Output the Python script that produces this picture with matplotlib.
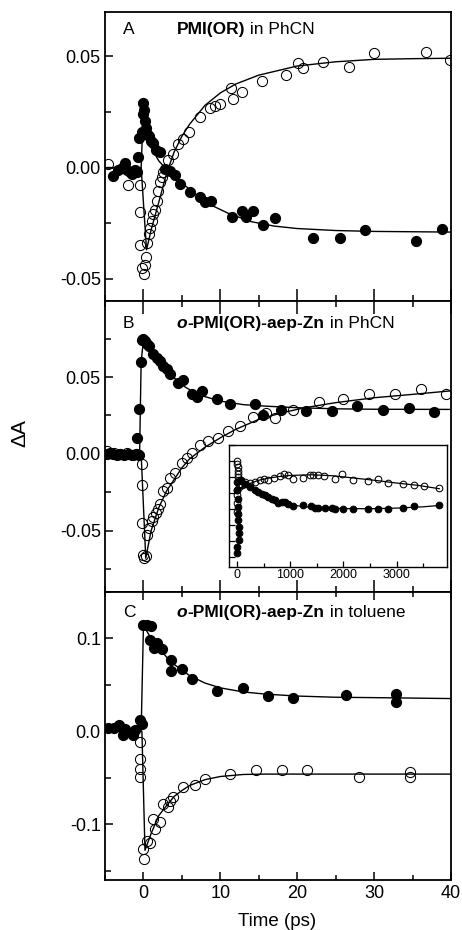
import numpy as np
import matplotlib
matplotlib.use("Agg")
import matplotlib.pyplot as plt
from matplotlib.ticker import MultipleLocator, FormatStrFormatter, NullFormatter

plt.rcParams['font.family'] = ['Liberation Sans', 'DejaVu Sans']
plt.rcParams['axes.unicode_minus'] = False

# ---- panel A: PMI(OR) in PhCN ----
tA_open = [-4.55, -2.04, -0.43, -0.43, -0.43, -0.2, 0.09, 0.2, 0.35, 0.43, 0.74, 0.87, 1.08,
           1.3, 1.5, 1.73, 1.95, 2.17, 2.38, 2.6, 3.25, 3.9, 4.55, 5.1, 5.94, 7.37, 8.67, 9.3,
           9.97, 11.4, 11.7, 12.8, 15.4, 18.6, 20.1, 20.7, 23.3, 26.7, 30.0, 36.8, 39.9]
yA_open = [0.0018, -0.0077, -0.008, -0.020, -0.035, -0.045, -0.048, -0.044, -0.040, -0.034,
           -0.030, -0.027, -0.024, -0.021, -0.019, -0.015, -0.0105, -0.0065, -0.0042, -0.002,
           0.0033, 0.0063, 0.0108, 0.013, 0.016, 0.0228, 0.0266, 0.0276, 0.0285, 0.036, 0.031,
           0.034, 0.039, 0.0416, 0.047, 0.0446, 0.0476, 0.0454, 0.0517, 0.0521, 0.0484]
tA_fill = [-3.9, -3.3, -2.8, -2.4, -2.17, -1.8, -1.5, -1.08, -0.87, -0.65, -0.52, -0.22, -0.09,
           0.0, 0.09, 0.22, 0.35, 0.52, 0.74, 0.95, 1.3, 1.6, 2.17, 2.8, 3.47, 4.1, 4.77, 6.07,
           7.37, 8.0, 8.76, 11.5, 12.8, 13.4, 14.2, 15.5, 17.1, 22.1, 25.5, 28.8, 35.5, 38.8]
yA_fill = [-0.0038, -0.001, 0.0, 0.0023, -0.0012, -0.002, -0.0027, -0.001, -0.002, 0.0048,
           0.0131, 0.016, 0.0243, 0.029, 0.026, 0.021, 0.018, 0.015, 0.014, 0.012, 0.011, 0.008,
           0.007, -0.0005, -0.0015, -0.0035, -0.0072, -0.011, -0.013, -0.0155, -0.015, -0.022,
           -0.0195, -0.022, -0.0195, -0.026, -0.0225, -0.0315, -0.0315, -0.028, -0.033, -0.0275]
tA_fit_open = [-5, -0.3, 0.4, 1, 2, 3, 4, 5, 6, 8, 10, 12, 15, 20, 25, 30, 35, 40]
yA_fit_open = [0.0, 0.0, -0.037, -0.028, -0.0155, -0.0027, 0.0071, 0.0141, 0.0195, 0.028,
               0.0336, 0.0376, 0.0416, 0.0457, 0.0476, 0.0487, 0.049, 0.0492]
tA_fit_fill = [-5, -0.3, 0.0, 0.5, 1, 1.5, 2, 3, 4, 5, 6, 7, 9, 11, 14, 17, 20, 25, 30, 40]
yA_fit_fill = [0.0, 0.0, 0.027, 0.016, 0.010, 0.006, 0.003, -0.0008, -0.0035, -0.0068,
               -0.0098, -0.0125, -0.0172, -0.0205, -0.0243, -0.0263, -0.0274, -0.0283,
               -0.0287, -0.029]

# ---- panel B: o-PMI(OR)-aep-Zn in PhCN ----
tB_fill = [-4.77, -4.3, -4.0, -3.5, -3.0, -2.5, -2.0, -1.5, -1.0, -0.6, -0.87, -0.52, -0.35,
           -0.22, 0.0, 0.22, 0.43, 0.74, 1.3, 1.73, 2.17, 2.6, 3.0, 3.47, 4.55, 5.2, 6.3, 7.0,
           7.6, 9.6, 11.2, 14.5, 15.5, 17.9, 21.2, 24.5, 27.8, 31.2, 34.6, 37.8]
yB_fill = [0.0, 0.0005, 0.0, -0.001, 0.0, -0.001, 0.0, -0.001, 0.0, -0.0005, 0.0104, 0.029,
           0.060, 0.074, 0.0746, 0.0735, 0.0713, 0.070, 0.065, 0.0626, 0.0604, 0.057, 0.055,
           0.0517, 0.0463, 0.0478, 0.0387, 0.037, 0.041, 0.0354, 0.0322, 0.0322, 0.0252,
           0.0283, 0.0278, 0.0278, 0.031, 0.0283, 0.0296, 0.0274]
tB_open = [-4.7, -3.8, -3.0, -2.2, -1.4, -0.8, -0.22, -0.22, -0.22, -0.09, 0.13, 0.35, 0.43,
           0.78, 1.08, 1.3, 1.65, 1.95, 2.17, 2.6, 3.0, 3.47, 4.1, 5.0, 5.6, 6.3, 7.4, 8.45,
           9.75, 11.05, 12.57, 14.3, 16.0, 17.1, 19.5, 22.8, 26.0, 29.3, 32.7, 36.1, 39.4]
yB_open = [0.002, 0.0005, 0.0, 0.0005, -0.0005, 0.0, -0.0065, -0.020, -0.045, -0.066, -0.068,
           -0.0667, -0.0526, -0.048, -0.044, -0.041, -0.0385, -0.036, -0.033, -0.0243, -0.022,
           -0.0157, -0.0124, -0.0059, -0.0026, 0.0007, 0.0057, 0.0083, 0.0104, 0.0148, 0.018,
           0.024, 0.0267, 0.0235, 0.0283, 0.0337, 0.036, 0.0387, 0.0387, 0.042, 0.0391]
tB_fit_fill = [-5, -0.5, -0.3, 0.0, 1, 2, 3, 4, 5, 7, 10, 13, 16, 20, 25, 30, 40]
yB_fit_fill = [0.0, 0.0, 0.060, 0.074, 0.068, 0.061, 0.055, 0.0495, 0.0448, 0.0387, 0.0343,
               0.032, 0.031, 0.030, 0.0293, 0.029, 0.0289]
tB_fit_open = [-5, -0.3, 0.3, 1, 2, 3, 4, 5, 6, 8, 10, 12, 15, 18, 21, 25, 30, 35, 40]
yB_fit_open = [0.0, 0.0, -0.068, -0.050, -0.035, -0.0243, -0.0167, -0.0091, -0.0033, 0.0043,
               0.0104, 0.0159, 0.0224, 0.0267, 0.030, 0.0333, 0.0365, 0.0387, 0.041]

# ---- inset of panel B (long time window, ps) ----
tI_fill = [0, 5, 10, 15, 20, 25, 30, 35, 40, 0, 0, 75, 150, 244, 338, 401, 464, 526, 589, 652,
           714, 777, 840, 902, 965, 1059, 1247, 1391, 1466, 1529, 1654, 1780, 1842, 1999, 2187,
           2456, 2657, 2845, 3127, 3333, 3803]
yI_fill = [0.0137, 0.0034, -0.007, -0.0174, -0.0256, -0.034, -0.042, -0.050, -0.059, -0.067,
           -0.075, 0.0166, 0.0116, 0.0075, 0.0034, 0.0013, -0.0008, -0.0029, -0.0049, -0.007,
           -0.009, -0.0124, -0.011, -0.011, -0.0132, -0.0161, -0.0153, -0.0165, -0.0182,
           -0.0186, -0.0186, -0.0186, -0.0194, -0.0194, -0.0202, -0.0202, -0.0194, -0.0194,
           -0.0186, -0.0161, -0.0153]
tI_open = [0, 5, 10, 15, 20, 25, 30, 35, 40, 0, 0, 0, 0, 88, 150, 244, 338, 432, 514, 589, 702,
           808, 890, 952, 1046, 1247, 1372, 1435, 1516, 1642, 1842, 1967, 2174, 2456, 2657, 2845,
           3127, 3333, 3521, 3803]
yI_open = [0.0406, 0.0365, 0.0323, 0.028, 0.024, 0.020, 0.0158, 0.0116, 0.0075, 0.0034, -0.0029,
           -0.013, -0.0236, 0.0096, 0.0137, 0.0125, 0.0137, 0.0158, 0.0178, 0.0158, 0.0191, 0.0207,
           0.0232, 0.022, 0.0178, 0.0191, 0.022, 0.022, 0.022, 0.0207, 0.0178, 0.024, 0.0158,
           0.0149, 0.0178, 0.0129, 0.0116, 0.0096, 0.0083, 0.0063]
tI_fit_fill = [0, 60, 200, 400, 600, 800, 1000, 1200, 1500, 2000, 2500, 3000, 3500, 3800]
yI_fit_fill = [0.003, 0.018, 0.0096, 0.0013, -0.005, -0.0105, -0.0145, -0.0165, -0.0186,
               -0.0194, -0.0196, -0.0188, -0.0172, -0.0155]
tI_fit_open = [0, 200, 400, 600, 800, 1000, 1400, 1800, 2200, 2600, 3000, 3400, 3800]
yI_fit_open = [0.0034, 0.0108, 0.0158, 0.0187, 0.0207, 0.022, 0.0228, 0.0216, 0.0187, 0.0158,
               0.0125, 0.0096, 0.0054]

# ---- panel C: o-PMI(OR)-aep-Zn in toluene ----
tC_fill = [-4.55, -3.8, -3.12, -2.6, -2.38, -1.3, -1.08, -0.43, -0.22, 0.0, 0.43, 0.95, 0.87,
           1.39, 1.73, 2.38, 3.55, 3.55, 4.98, 6.28, 9.62, 13.0, 16.25, 19.5, 26.35, 32.9, 32.9]
yC_fill = [0.0036, 0.004, 0.0065, -0.004, 0.003, -0.004, 0.001, 0.012, 0.008, 0.1144, 0.1144,
           0.1137, 0.098, 0.090, 0.0946, 0.0885, 0.0766, 0.0647, 0.0676, 0.0561, 0.0432,
           0.0468, 0.0381, 0.036, 0.0396, 0.0406, 0.0317]
tC_open = [-0.43, -0.43, -0.43, -0.43, 0.0, 0.09, 0.43, 0.87, 1.2, 1.5, 2.17, 2.6, 3.25, 3.47,
           3.9, 5.2, 6.7, 8.0, 11.27, 14.65, 18.0, 21.3, 28.0, 34.7, 34.7]
yC_open = [-0.0115, -0.0295, -0.040, -0.049, -0.1266, -0.137, -0.1176, -0.120, -0.094, -0.105,
           -0.098, -0.078, -0.0817, -0.0745, -0.0709, -0.060, -0.0576, -0.0518, -0.0457,
           -0.042, -0.042, -0.042, -0.0486, -0.0439, -0.0486]
tC_fit_fill = [-5, -0.3, 0.0, 1, 2, 3, 4, 5, 6, 8, 10, 13, 16, 20, 25, 30, 40]
yC_fit_fill = [0.0, 0.0, 0.114, 0.100, 0.090, 0.080, 0.072, 0.066, 0.060, 0.052, 0.0468,
               0.0424, 0.040, 0.038, 0.0367, 0.0363, 0.0353]
tC_fit_open = [-5, -0.2, 0.2, 1, 2, 3, 4, 5, 6, 8, 10, 13, 16, 40]
yC_fit_open = [0.0, 0.0, -0.128, -0.110, -0.0906, -0.080, -0.070, -0.0637, -0.0583, -0.052,
               -0.0486, -0.0464, -0.046, -0.046]

W, H = 462, 930
fig = plt.figure(figsize=(W / 100, H / 100), dpi=100)
L, R = 105 / W, 451 / W

def frac(top, bot):
    return [L, 1 - bot / H, R - L, (bot - top) / H]

axA = fig.add_axes(frac(12, 301))
axB = fig.add_axes(frac(301, 592))
axC = fig.add_axes(frac(592, 880))
axI = fig.add_axes([229 / W, 1 - 566.7 / H, 217.7 / W, 121.7 / H])

MS = 7.3
def draw(ax, tf, yf, to, yo, tff, yff, tfo, yfo, ms=MS, lw=1.0):
    ax.plot(tff, yff, color='k', lw=lw, zorder=2)
    ax.plot(tfo, yfo, color='k', lw=lw, zorder=2)
    ax.plot(to, yo, 'o', ms=ms, mfc='none', mec='k', mew=0.75, zorder=3)
    ax.plot(tf, yf, 'o', ms=ms, mfc='k', mec='k', mew=0.75, zorder=4)

draw(axA, tA_fill, yA_fill, tA_open, yA_open, tA_fit_fill, yA_fit_fill, tA_fit_open, yA_fit_open)
draw(axB, tB_fill, yB_fill, tB_open, yB_open, tB_fit_fill, yB_fit_fill, tB_fit_open, yB_fit_open)
draw(axC, tC_fill, yC_fill, tC_open, yC_open, tC_fit_fill, yC_fit_fill, tC_fit_open, yC_fit_open)
draw(axI, tI_fill, yI_fill, tI_open, yI_open, tI_fit_fill, yI_fit_fill, tI_fit_open, yI_fit_open,
     ms=4.8, lw=0.9)

axA.set_ylim(-0.06, 0.07)
axB.set_ylim(-0.09, 0.0995)
axC.set_ylim(-0.16, 0.15)
for ax, maj, fmt in [(axA, 0.05, '%.2f'), (axB, 0.05, '%.2f'), (axC, 0.1, '%.1f')]:
    ax.set_xlim(-5, 40)
    ax.xaxis.set_major_locator(MultipleLocator(10))
    ax.xaxis.set_minor_locator(MultipleLocator(5))
    ax.yaxis.set_major_locator(MultipleLocator(maj))
    ax.yaxis.set_minor_locator(MultipleLocator(maj / 2))
    ax.yaxis.set_major_formatter(FormatStrFormatter(fmt))
    ax.tick_params(axis='both', which='both', direction='in', labelsize=13, right=False)
    ax.tick_params(axis='x', which='major', length=9, width=1.1, top=True)
    ax.tick_params(axis='x', which='minor', length=4.5, width=1.1, top=True)
    ax.tick_params(axis='y', which='major', length=6, width=1.1, pad=3)
    ax.tick_params(axis='y', which='minor', length=4, width=1.1)
    for s in ax.spines.values():
        s.set_linewidth(1.3)
axA.tick_params(axis='x', which='both', top=False)
for ax in (axA, axB):
    ax.tick_params(axis='x', labelbottom=False)
axC.tick_params(axis='x', which='major', length=6)
axC.tick_params(axis='x', which='minor', length=3.5)
axC.xaxis.set_major_formatter(FormatStrFormatter('%d'))
axC.set_xticks([0, 10, 20, 30, 40])

axI.set_xlim(-150, 3940)
axI.set_ylim(-0.092, 0.06)
axI.xaxis.set_major_locator(MultipleLocator(1000))
axI.xaxis.set_minor_locator(MultipleLocator(500))
axI.yaxis.set_major_locator(MultipleLocator(0.02))
axI.yaxis.set_major_formatter(NullFormatter())
axI.tick_params(axis='both', which='both', direction='in', labelsize=9, pad=2)
axI.tick_params(axis='both', which='major', length=4, width=0.9)
axI.tick_params(axis='x', which='minor', length=3, width=0.9)
axI.set_xticks([0, 1000, 2000, 3000])
for s in axI.spines.values():
    s.set_linewidth(1.0)

fig.text(20 / W, 1 - 433 / H, 'ΔA', rotation=90, ha='center', va='center', fontsize=15)
fig.text(277 / W, 1 - 921 / H, 'Time (ps)', ha='center', va='center', fontsize=13.5)

fig.canvas.draw()
renderer = fig.canvas.get_renderer()

def rich(ax, x, y, parts, size=12.5):
    trans = ax.transAxes
    xpix, ypix = trans.transform((x, y))
    for txt, weight, style in parts:
        t = fig.text(xpix / W, ypix / H, txt, fontsize=size, fontweight=weight,
                     fontstyle=style, ha='left', va='center')
        xpix += t.get_window_extent(renderer).width

labels = [(axA, 'A', 0.941, [('PMI(OR)', 'bold', 'normal'), (' in PhCN', 'normal', 'normal')]),
          (axB, 'B', 0.924, [('o', 'bold', 'italic'), ('-PMI(OR)-aep-Zn', 'bold', 'normal'),
                             (' in PhCN', 'normal', 'normal')]),
          (axC, 'C', 0.930, [('o', 'bold', 'italic'), ('-PMI(OR)-aep-Zn', 'bold', 'normal'),
                             (' in toluene', 'normal', 'normal')])]
for ax, lab, yy, parts in labels:
    ax.text(0.052, yy, lab, transform=ax.transAxes, fontsize=12.5, ha='left', va='center')
    rich(ax, 0.208, yy, parts)

fig.savefig('out.png', dpi=100)
